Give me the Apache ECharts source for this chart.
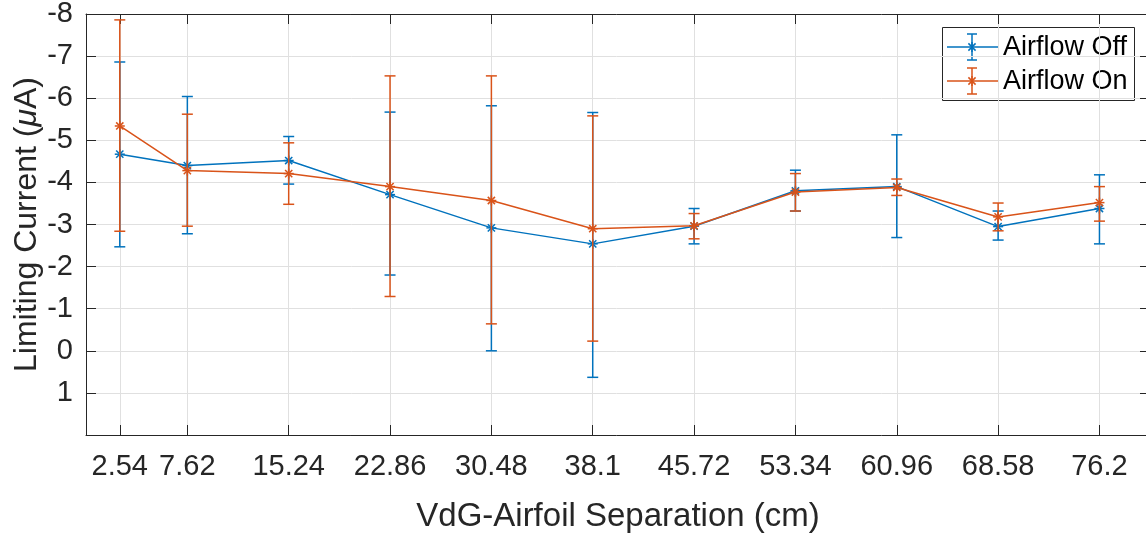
<!DOCTYPE html>
<html>
<head>
<meta charset="utf-8">
<script src="https://cdn.jsdelivr.net/npm/echarts@6/dist/echarts.min.js"></script>
<style>
html,body{margin:0;padding:0;background:#fff;}
#chart{width:1146px;height:533px;}
</style>
</head>
<body>
<div id="chart"></div>
<script>
// ---- data ----
const separations = [2.54, 7.62, 15.24, 22.86, 30.48, 38.1, 45.72, 53.34, 60.96, 68.58, 76.2];
const xTickValues = [2.54, 7.62, 15.24, 22.86, 30.48, 38.1, 45.72, 53.34, 60.96, 68.58, 76.2];
const yTickValues = [-8, -7, -6, -5, -4, -3, -2, -1, 0, 1];
const offMean = [-4.67, -4.40, -4.52, -3.71, -2.92, -2.54, -2.96, -3.80, -3.90, -2.95, -3.38];
const offLow  = [-6.86, -6.04, -5.09, -5.67, -5.82, -5.66, -3.38, -4.29, -5.13, -3.32, -4.18];
const offHigh = [-2.47, -2.78, -3.96, -1.80, 0.00, 0.63, -2.54, -3.32, -2.69, -2.63, -2.54];
const onMean  = [-5.34, -4.28, -4.21, -3.90, -3.57, -2.90, -2.97, -3.77, -3.88, -3.18, -3.52];
const onLow   = [-7.86, -5.62, -4.94, -6.53, -6.53, -5.58, -3.26, -4.21, -4.08, -3.51, -3.90];
const onHigh  = [-2.84, -2.96, -3.48, -1.29, -0.64, -0.23, -2.66, -3.32, -3.69, -2.85, -3.08];
const seriesNames = ['Airflow Off', 'Airflow On'];

const BLUE = '#0072BD', ORANGE = '#D95319', AX = '#262626', GRIDC = '#e0e0e0';
const FONT = '"Liberation Sans", Arial, sans-serif';

function pts(mean){ return separations.map((x,i)=>[x, mean[i]]); }
function errData(mean, lo, hi){ return separations.map((x,i)=>[x, mean[i], lo[i], hi[i]]); }

function errRender(color){
  return function(params, api){
    const x = api.value(0);
    const pm = api.coord([x, api.value(1)]);
    const pl = api.coord([x, api.value(2)]);
    const ph = api.coord([x, api.value(3)]);
    const cw = 5.5, r = 5, d = r*0.72;
    const st = {stroke: color, lineWidth: 1.5, fill: null};
    const L = (x1,y1,x2,y2)=>({type:'line', shape:{x1,y1,x2,y2}, style:st});
    return {type:'group', children:[
      L(pl[0], pl[1], ph[0], ph[1]),
      L(pl[0]-cw, pl[1], pl[0]+cw, pl[1]),
      L(ph[0]-cw, ph[1], ph[0]+cw, ph[1]),
      L(pm[0]-r, pm[1], pm[0]+r, pm[1]),
      L(pm[0], pm[1]-r, pm[0], pm[1]+r),
      L(pm[0]-d, pm[1]-d, pm[0]+d, pm[1]+d),
      L(pm[0]-d, pm[1]+d, pm[0]+d, pm[1]-d)
    ]};
  };
}

const chart = echarts.init(document.getElementById('chart'), null, {renderer:'canvas'});

const xBase = {
  type:'value', min:0, max:80,
  axisLine:{show:true, onZero:false, lineStyle:{color:AX, width:1}},
  axisTick:{show:true, inside:true, length:10, customValues:xTickValues, lineStyle:{color:AX}},
  splitLine:{show:false}
};
const yBase = {
  type:'value', min:-8, max:2, interval:1, inverse:true,
  axisLine:{show:true, onZero:false, lineStyle:{color:AX, width:1}},
  axisTick:{show:true, inside:true, length:10, lineStyle:{color:AX}},
  splitLine:{show:false}
};

const option = {
  animation:false,
  backgroundColor:'#fff',
  grid:{left:86, top:14, width:1064, height:421, containLabel:false, outerBoundsMode:'none'},
  xAxis:[
    Object.assign({}, xBase, {
      position:'bottom',
      name:'VdG-Airfoil Separation (cm)', nameLocation:'middle', nameGap:65, nameMoveOverlap:false,
      nameTextStyle:{fontFamily:FONT, fontSize:33, color:AX},
      axisLabel:{show:true, customValues:xTickValues, margin:17, fontFamily:FONT, fontSize:29, color:AX,
        formatter:v=>String(v)},
      splitLine:{show:true, lineStyle:{color:GRIDC, width:1}},
    }),
    Object.assign({}, xBase, {position:'top', axisLabel:{show:false}})
  ],
  yAxis:[
    Object.assign({}, yBase, {
      position:'left',
      name:'{n|Limiting Current (}{m|\u03BC}{n|A)}', nameLocation:'middle', nameGap:43, nameRotate:90,
      nameMoveOverlap:false,
      nameTextStyle:{fontFamily:FONT, fontSize:32, color:AX,
        rich:{n:{fontFamily:FONT, fontSize:32, color:AX}, m:{fontFamily:FONT, fontSize:32, color:AX, fontStyle:'italic'}}},
      axisLabel:{show:true, margin:13, fontFamily:FONT, fontSize:29, color:AX,
        formatter:v=> (v===2 ? '' : String(v))},
      splitLine:{show:true, lineStyle:{color:GRIDC, width:1}}
    }),
    Object.assign({}, yBase, {position:'right', axisLabel:{show:false}})
  ],
  series:[
    {name:seriesNames[0], type:'line', data:pts(offMean), symbol:'none',
      lineStyle:{color:BLUE, width:1.5}, z:2},
    {name:seriesNames[0]+' err', type:'custom', data:errData(offMean, offLow, offHigh),
      renderItem:errRender(BLUE), z:3},
    {name:seriesNames[1], type:'line', data:pts(onMean), symbol:'none',
      lineStyle:{color:ORANGE, width:1.5}, z:4},
    {name:seriesNames[1]+' err', type:'custom', data:errData(onMean, onLow, onHigh),
      renderItem:errRender(ORANGE), z:5}
  ],
  graphic:[]
};

// legend (MATLAB-style box)
function legendRow(y, color, label){
  const cx = 972, st={stroke:color, lineWidth:1.5};
  const d = 3.6;
  return [
    {type:'line', shape:{x1:947,y1:y,x2:998,y2:y}, style:st},
    {type:'line', shape:{x1:cx,y1:y-13,x2:cx,y2:y+13}, style:st},
    {type:'line', shape:{x1:cx-5,y1:y-13,x2:cx+5,y2:y-13}, style:st},
    {type:'line', shape:{x1:cx-5,y1:y+13,x2:cx+5,y2:y+13}, style:st},
    {type:'line', shape:{x1:cx-d,y1:y-d,x2:cx+d,y2:y+d}, style:st},
    {type:'line', shape:{x1:cx-d,y1:y+d,x2:cx+d,y2:y-d}, style:st},
    {type:'line', shape:{x1:cx,y1:y-5,x2:cx,y2:y+5}, style:st},
    {type:'text', x:1003, y:y+1, style:{text:label, fill:'#000', font:'27px '+FONT, textVerticalAlign:'middle', textAlign:'left'}}
  ];
}
option.graphic = [{type:'group', z:100, children:[
  {type:'rect', shape:{x:942.5, y:27.5, width:192, height:73}, style:{fill:'#fff', stroke:AX, lineWidth:1}},
  ...legendRow(47, BLUE, seriesNames[0]),
  ...legendRow(81, ORANGE, seriesNames[1])
]}];

chart.setOption(option);
</script>
</body>
</html>
